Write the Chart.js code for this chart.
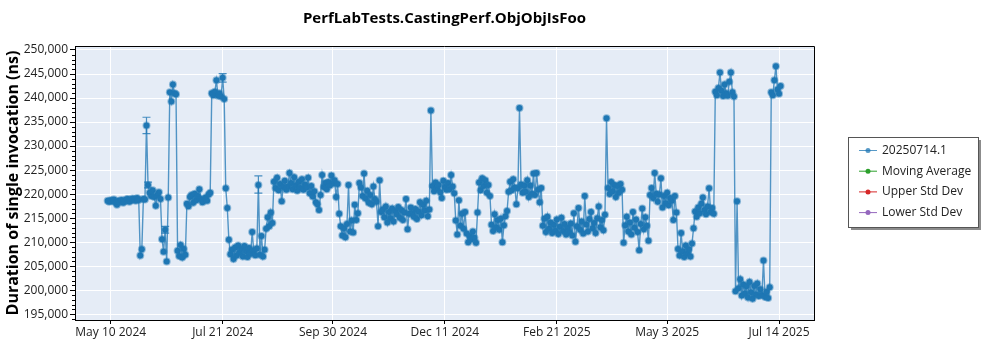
<!DOCTYPE html>
<html>
<head>
<meta charset="utf-8">
<title>PerfLabTests.CastingPerf.ObjObjIsFoo</title>
<script src="https://cdn.jsdelivr.net/npm/chart.js@4.4.1/dist/chart.umd.min.js"></script>
<style>
  html, body { margin: 0; padding: 0; background: #ffffff; }
  #wrap { width: 1000px; height: 350px; }
</style>
</head>
<body>
<div id="wrap"><canvas id="chart" width="1000" height="350"></canvas></div>
<script>
// Daily measurements (ns), one array per month; each starts on the date in runStarts.
const may2024 = [218600, 218400, 218700, 218500, 218900, 218300, 217800, 218600, 218400, 218800, 218200, 218500, 218900, 219000, 218400, 218700, 219100, 218900, 218600, 219200, 218800, 207200, 208500, 219000];
const jun2024 = [218900, 234300, 221900, 220300, 219600, 220800, 219400, 217600, 219800, 220400, 219000, 210600, 208000, 212600, 206000, 219300, 241200, 239300, 242800, 241000, 240800, 208200, 207100, 209400, 206800, 208600, 207400, 218000, 217500, 219400];
const jul2024 = [219800, 218200, 220100, 218700, 219600, 221000, 219000, 218300, 218800, 219300, 218600, 219900, 220300, 241000, 240600, 241300, 243700, 240500, 241000, 240300, 244200, 239800, 221200, 217100, 210500, 207500, 208400, 206500, 208900, 207200, 209300];
const aug2024 = [207800, 208600, 207000, 209200, 208100, 206900, 208800, 207600, 212100, 208300, 207300, 208700, 221900, 207400, 211300, 207000, 208400, 212800, 215200, 213300, 216200, 214000, 222600, 221300, 223400, 220800, 222100, 218500, 221500, 222800, 220900];
const sep2024 = [221600, 224400, 222300, 221000, 223500, 221800, 220700, 222600, 221300, 223100, 220900, 222000, 221400, 223400, 220200, 221700, 219500, 220600, 218300, 217900, 216700, 219800, 224000, 221500, 222300, 221000, 222500, 221800, 223900, 222200];
const oct2024 = [222900, 219400, 222100, 215900, 213300, 211400, 212900, 211000, 213800, 221900, 212200, 214500, 212000, 217800, 214600, 216000, 222300, 221400, 219600, 224300, 219100, 220700, 218200, 219800, 217900, 221600, 219000, 218400, 213300, 222900, 216300];
const nov2024 = [216800, 215200, 217400, 214100, 216300, 215000, 217000, 214300, 216500, 215800, 217300, 215100, 216700, 214600, 216200, 219000, 212700, 215900, 217200, 216000, 215300, 216900, 214800, 216400, 218300, 215600, 217800, 216600, 218600, 215400];
const dec2024 = [216800, 237400, 221700, 220600, 222400, 221100, 221900, 220400, 219200, 222800, 221500, 220900, 222300, 221000, 224000, 221600, 220200, 214500, 211600, 218700, 213400, 215900, 212800, 216300, 211800, 210000, 211300, 210600, 212200, 210900, 209900];
const jan2025 = [216200, 222400, 220800, 223300, 221700, 222900, 220300, 221900, 219600, 213600, 212300, 215800, 213100, 214600, 212600, 214900, 210000, 213500, 215400, 216500, 220500, 222600, 220800, 223100, 221400, 217900, 221200, 237900, 222000, 220300, 221800];
const feb2025 = [220500, 222900, 219400, 221800, 220100, 224300, 219800, 224400, 220900, 218300, 221300, 213400, 214900, 212100, 215300, 212800, 214100, 211900, 213600, 212400, 214700, 211700, 213200, 215100, 212300, 213800, 211600, 213000];
const mar2025 = [212100, 213900, 211400, 216000, 210100, 213300, 217100, 212600, 214300, 211800, 219600, 213700, 212200, 214800, 216300, 212900, 214000, 211900, 215000, 217400, 213100, 214600, 212500, 215700, 235800, 221300, 220000, 222500, 220600, 221900, 219400];
const apr2025 = [221700, 220300, 222100, 220900, 209900, 213500, 215300, 212200, 214100, 211600, 216300, 213000, 214700, 212100, 208300, 213800, 217000, 212700, 215200, 213400, 210300, 219800, 221300, 219200, 224400, 220100, 218400, 219900, 223300, 217200];
const may2025 = [219600, 218100, 220300, 217700, 219200, 218600, 214600, 219600, 216200, 208600, 207200, 211900, 208100, 206900, 209300, 207600, 208500, 207000, 209700, 212900, 216400, 215300, 217200, 216000, 218000, 219300, 216700, 215800, 217400, 221200, 216300];
const jun2025 = [217100, 215900, 241300, 240600, 242100, 245300, 241500, 240400, 242800, 241000, 240500, 243400, 245300, 241200, 240300, 199800, 218500, 200400, 202300, 198900, 201200, 199300, 200800, 198500, 201700, 199600, 198200, 200900, 199100, 201400];
const jul2025 = [198800, 200200, 199000, 206200, 198600, 199700, 198400, 200600, 241200, 240600, 243700, 246600, 241800, 240900, 242500];

const runStarts = ['2024-05-08', '2024-06-01', '2024-07-01', '2024-08-01', '2024-09-01', '2024-10-01', '2024-11-01',
                   '2024-12-01', '2025-01-01', '2025-02-01', '2025-03-01', '2025-04-01', '2025-05-01', '2025-06-01', '2025-07-01'];
const runs = [may2024, jun2024, jul2024, aug2024, sep2024, oct2024, nov2024, dec2024,
              jan2025, feb2025, mar2025, apr2025, may2025, jun2025, jul2025];

// Runs whose spread is wide enough to show as an error bar
const errorDates = ['2024-06-02', '2024-06-03', '2024-07-21', '2024-08-13', '2024-06-14'];
const errorLow   = [232600, 221300, 243300, 220200, 211900];
const errorHigh  = [236000, 222500, 245100, 223800, 213300];

const xTickDates = ['2024-05-10', '2024-07-21', '2024-09-30', '2024-12-11', '2025-02-21', '2025-05-03', '2025-07-14'];
const yTickValues = [195000, 200000, 205000, 210000, 215000, 220000, 225000, 230000, 235000, 240000, 245000, 250000];

const seriesNames = ['20250714.1', 'Moving Average', 'Upper Std Dev', 'Lower Std Dev'];
const seriesColors = ['#1f77b4', '#2ca02c', '#d62728', '#9467bd'];

const DAY = 86400000;
const toMs = s => { const [y, m, d] = s.split('-').map(Number); return Date.UTC(y, m - 1, d); };
const MONTHS = ['Jan', 'Feb', 'Mar', 'Apr', 'May', 'Jun', 'Jul', 'Aug', 'Sep', 'Oct', 'Nov', 'Dec'];
const fmtDate = ms => { const d = new Date(ms); return MONTHS[d.getUTCMonth()] + ' ' + d.getUTCDate() + ' ' + d.getUTCFullYear(); };

const points = [];
runs.forEach((vals, r) => {
  const start = toMs(runStarts[r]);
  vals.forEach((v, i) => points.push({ x: start + i * DAY, y: v }));
});

const FONT = "'Open Sans', 'Noto Sans', 'DejaVu Sans', sans-serif";

const plotBackground = {
  id: 'plotBackground',
  beforeDraw(chart) {
    const { ctx, chartArea: a } = chart;
    ctx.save();
    ctx.fillStyle = '#e5ecf6';
    ctx.fillRect(a.left, a.top, a.right - a.left, a.bottom - a.top);
    ctx.restore();
  }
};

const minorTicks = {
  id: 'minorTicks',
  afterDraw(chart) {
    const { ctx, chartArea: a } = chart;
    const ys = chart.scales.y;
    ctx.save();
    ctx.strokeStyle = '#000';
    ctx.lineWidth = 1;
    ctx.beginPath();
    for (let v = Math.ceil(ys.min / 1000) * 1000; v <= ys.max; v += 1000) {
      if (v % 5000 === 0) continue;
      const py = Math.round(ys.getPixelForValue(v)) + 0.5;
      ctx.moveTo(a.left - 3, py);
      ctx.lineTo(a.left, py);
    }
    ctx.stroke();
    // frame: top and right edges
    ctx.beginPath();
    ctx.moveTo(a.left, a.top + 0.5);
    ctx.lineTo(a.right + 0.5, a.top + 0.5);
    ctx.lineTo(a.right + 0.5, a.bottom);
    ctx.stroke();
    ctx.restore();
  }
};

const errorBars = {
  id: 'errorBars',
  afterDatasetsDraw(chart) {
    const { ctx } = chart;
    const xs = chart.scales.x, ys = chart.scales.y;
    ctx.save();
    ctx.strokeStyle = 'rgba(31,119,180,0.8)';
    ctx.lineWidth = 1.2;
    errorDates.forEach((d, i) => {
      const px = xs.getPixelForValue(toMs(d));
      const lo = ys.getPixelForValue(errorLow[i]);
      const hi = ys.getPixelForValue(errorHigh[i]);
      ctx.beginPath();
      ctx.moveTo(px, lo); ctx.lineTo(px, hi);
      ctx.moveTo(px - 4, lo); ctx.lineTo(px + 4, lo);
      ctx.moveTo(px - 4, hi); ctx.lineTo(px + 4, hi);
      ctx.stroke();
    });
    ctx.restore();
  }
};

const boxedLegend = {
  id: 'boxedLegend',
  afterDraw(chart) {
    const { ctx, chartArea: a } = chart;
    const w = 130, h = 90;
    const left = a.right + 34;
    const top = Math.round((a.top + a.bottom) / 2 - h / 2) - 1;
    ctx.save();
    ctx.fillStyle = 'rgba(0,0,0,0.45)';
    ctx.fillRect(left + 3, top + 3, w, h);
    ctx.fillStyle = '#ffffff';
    ctx.fillRect(left, top, w, h);
    ctx.strokeStyle = '#555555';
    ctx.lineWidth = 1;
    ctx.strokeRect(left + 0.5, top + 0.5, w, h);
    ctx.font = '12px ' + FONT;
    ctx.textBaseline = 'middle';
    chart.data.datasets.forEach((ds, i) => {
      const y = top + 13.5 + i * 20.7;
      ctx.strokeStyle = ds.borderColor;
      ctx.lineWidth = 1;
      ctx.beginPath();
      ctx.moveTo(left + 11, y); ctx.lineTo(left + 29, y);
      ctx.stroke();
      ctx.fillStyle = ds.borderColor;
      ctx.beginPath();
      ctx.arc(left + 20, y, 2.5, 0, Math.PI * 2);
      ctx.fill();
      ctx.fillStyle = '#222';
      ctx.fillText(ds.label, left + 34, y);
    });
    ctx.restore();
  }
};

const datasets = seriesNames.map((name, i) => ({
  label: name,
  data: i === 0 ? points : [],
  borderColor: seriesColors[i],
  backgroundColor: seriesColors[i],
  borderWidth: 1.4,
  pointRadius: 3,
  pointBorderWidth: 2,
  pointBackgroundColor: seriesColors[i],
  pointBorderColor: i === 0 ? 'rgba(31,119,180,0.45)' : seriesColors[i],
  tension: 0
}));
datasets[0].borderColor = 'rgba(31,119,180,0.75)';
datasets[0].legendColor = seriesColors[0];

new Chart(document.getElementById('chart'), {
  type: 'line',
  data: { datasets },
  options: {
    responsive: false,
    animation: false,
    devicePixelRatio: 1,
    layout: { padding: { left: 0, right: 186, top: 0, bottom: 0 }, autoPadding: false },
    plugins: {
      legend: { display: false },
      tooltip: { enabled: false },
      title: {
        display: true,
        text: 'PerfLabTests.CastingPerf.ObjObjIsFoo',
        fullSize: false,
        color: '#000',
        font: { family: FONT, size: 15, weight: 'bold', lineHeight: 1.2 },
        padding: { top: 10, bottom: 18 }
      }
    },
    scales: {
      x: {
        type: 'linear',
        min: toMs('2024-04-17'),
        max: toMs('2025-08-05') + DAY / 2,
        afterFit: s => { s.height = 30; },
        afterBuildTicks: s => { s.ticks = xTickDates.map(d => ({ value: toMs(d) })); },
        border: { display: true, color: '#000', width: 1 },
        grid: { color: '#ffffff', lineWidth: 1, tickColor: '#000', tickLength: 4 },
        ticks: {
          color: '#222',
          font: { family: FONT, size: 12 },
          padding: 1,
          maxRotation: 0,
          autoSkip: false,
          callback: v => fmtDate(v)
        }
      },
      y: {
        type: 'linear',
        min: 193800,
        max: 250830,
        afterFit: s => { s.width = 75; },
        afterBuildTicks: s => { s.ticks = yTickValues.map(v => ({ value: v })); },
        border: { display: true, color: '#000', width: 1 },
        grid: { color: '#ffffff', lineWidth: 1, tickColor: '#000', tickLength: 5 },
        ticks: {
          color: '#222',
          font: { family: FONT, size: 12 },
          padding: 2,
          autoSkip: false,
          callback: v => v.toLocaleString('en-US')
        },
        title: {
          display: true,
          text: 'Duration of single invocation (ns)',
          color: '#000',
          font: { family: FONT, size: 16, weight: 'bold', lineHeight: 1.2 },
          padding: { top: 4, bottom: 0 }
        }
      }
    }
  },
  plugins: [plotBackground, errorBars, minorTicks, boxedLegend]
});
</script>
</body>
</html>
